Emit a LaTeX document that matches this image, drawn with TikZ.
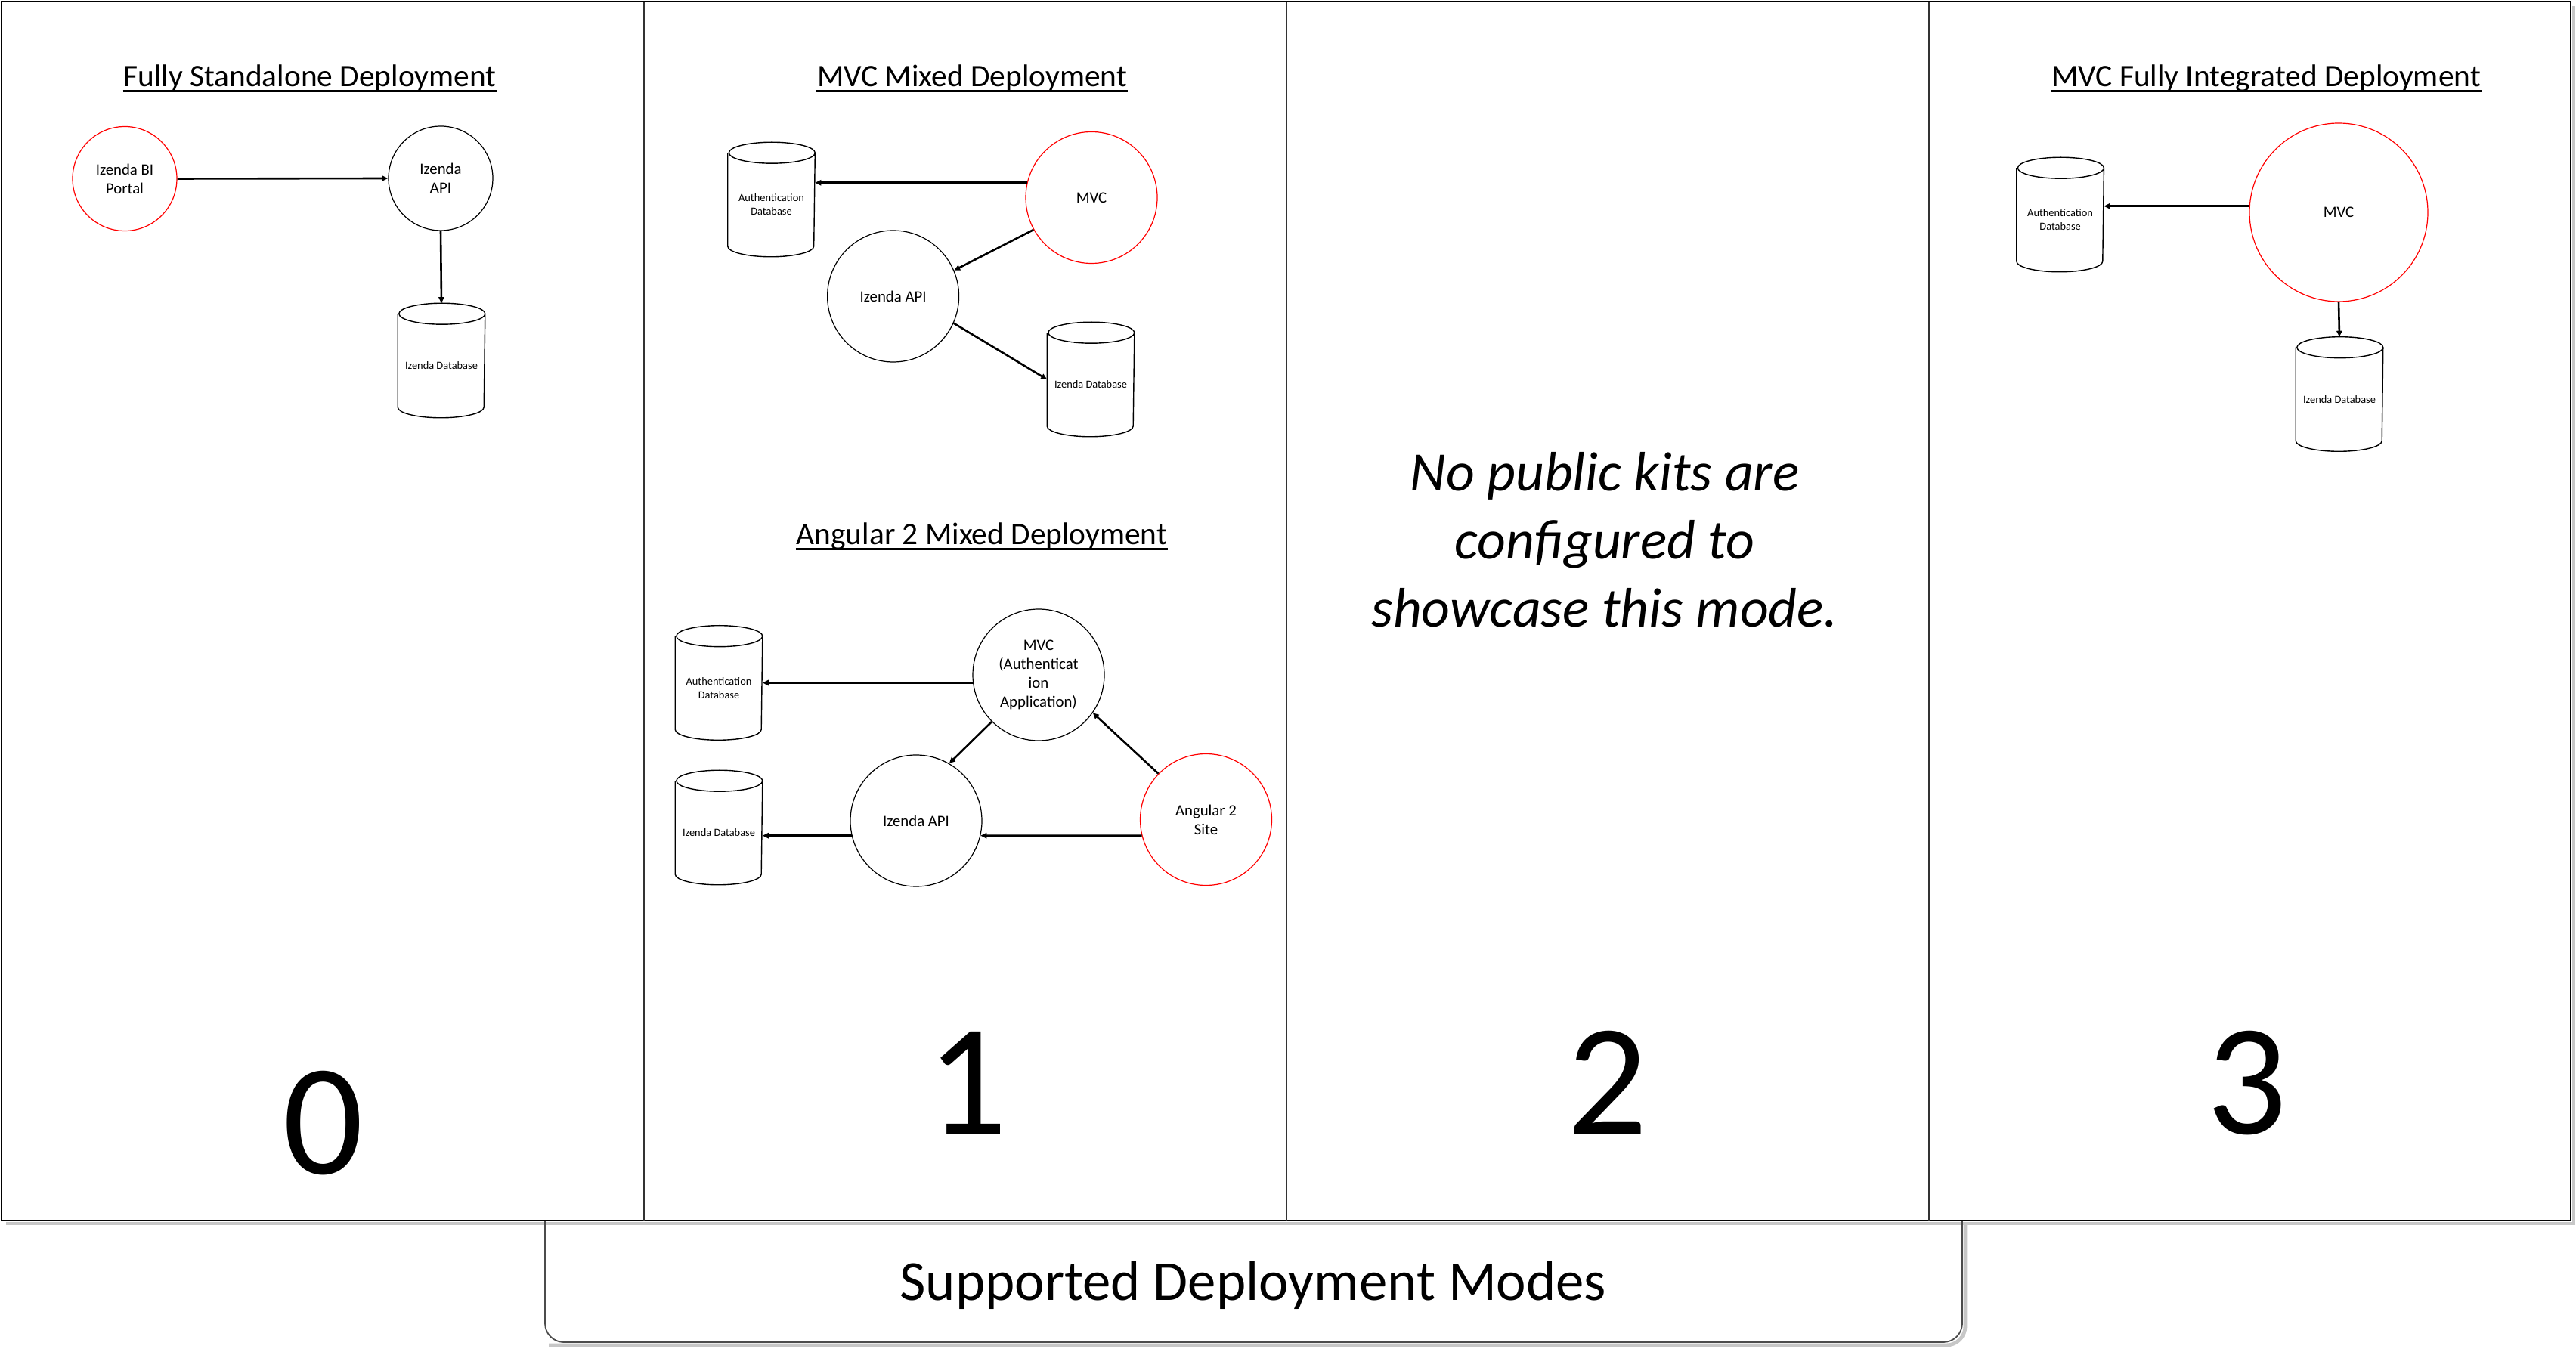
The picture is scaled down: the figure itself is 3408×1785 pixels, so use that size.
\documentclass[tikz,border=0pt]{standalone}
\usepackage{fontspec}
\setmainfont{Carlito}
\usetikzlibrary{arrows.meta}
\tikzset{
  circnode/.style={circle, draw=black, line width=0.3pt, inner sep=0pt, align=center,
    font=\fontsize{5.2pt}{6.3pt}\selectfont},
  redc/.style={draw=red},
  db/.style={rectangle, draw=none, inner sep=0pt, minimum width=28.5pt, minimum height=37.5pt},
  dbline/.style={line width=0.35pt, draw=black},
  dbtxt/.style={inner sep=0pt, align=center, font=\fontsize{3.6pt}{4.5pt}\selectfont},
  arr/.style={-{Triangle[length=2pt,width=1.8pt]}, line width=0.65pt},
  titletxt/.style={inner sep=0pt, anchor=base, font=\fontsize{10.35pt}{12pt}\selectfont},
  uline/.style={line width=0.7pt},
  numtxt/.style={inner sep=0pt, anchor=base, font=\fontsize{52.5pt}{60pt}\selectfont},
  frame/.style={line width=0.5pt, draw=black},
  divider/.style={line width=0.35pt, draw=black!80},
  shadowline/.style={line width=1.2pt, draw=black!22},
}
\newcommand\cyl[1]{%
  \draw[dbline] ([yshift=-3.5pt]#1.north west) -- ([yshift=3.5pt]#1.south west)
    arc[x radius=14.25pt, y radius=3.5pt, start angle=180, end angle=360]
    -- ([yshift=-3.5pt]#1.north east)
    arc[x radius=14.25pt, y radius=3.5pt, start angle=0, end angle=180]
    arc[x radius=14.25pt, y radius=3.5pt, start angle=180, end angle=360];}
\newcommand\uln[1]{\draw[uline] ([yshift=-1.4pt]#1.base west) -- ([yshift=-1.4pt]#1.base east);}
\begin{document}
\begin{tikzpicture}[x=0.25pt,y=-0.25pt]
\useasboundingbox (0,0) rectangle (3408,1785);
\fill[white] (0,0) rectangle (3408,1785);

% shadows
\draw[shadowline] (8,1619) -- (3405,1619) -- (3405,8);
\draw[shadowline, rounded corners=6.25pt] (2600,1619) -- (2600,1780) -- (726,1780);

% bottom box
\draw[line width=0.45pt, draw=black!70, rounded corners=6.25pt]
  (721,1615) -- (721,1776) -- (2596,1776) -- (2596,1615);
\node[inner sep=0pt, anchor=base, font=\fontsize{18.7pt}{22pt}\selectfont] (modes) at (1658,1720) {Supported Deployment Modes};

% panels
\draw[frame] (2,2) rectangle (3401,1615);
\draw[frame, line width=0.7pt] (2,1615) -- (3401,1615);
\draw[divider] (852,2) -- (852,1615);
\draw[divider] (1702,2) -- (1702,1615);
\draw[divider] (2552,2) -- (2552,1615);

% ---- panel 0
\node[titletxt] (t0) at (410,115) {Fully Standalone Deployment};
\uln{t0}
\node[circnode, redc, minimum size=34.5pt] (portal) at (165,236.5) {Izenda BI\\Portal};
\node[circnode, minimum size=34.5pt] (api0) at (583,236) {Izenda\\API};
\node[db] (idb0) at (584,477) {};
\cyl{idb0}
\node[dbtxt] (idb0t) at ([yshift=-1.75pt]idb0.center) {Izenda Database};
\draw[arr] (portal.east) -- (api0.west);
\draw[arr] (api0.south) -- (idb0.north);
\node[numtxt] (n0) at (428,1553) {0};

% ---- panel 1 top
\node[titletxt] (t1a) at (1286,115) {MVC Mixed Deployment};
\uln{t1a}
\node[circnode, redc, minimum size=43.5pt] (mvc1) at (1444,261.5) {MVC};
\node[circnode, minimum size=43.5pt] (api1) at (1181.6,392) {Izenda API};
\node[db] (adb1) at (1020.5,264) {};
\cyl{adb1}
\node[dbtxt] (adb1t) at ([yshift=-1.75pt]adb1.center) {Authentication\\Database};
\node[db] (idb1) at (1443,502) {};
\cyl{idb1}
\node[dbtxt] (idb1t) at ([yshift=-1.75pt]idb1.center) {Izenda Database};
\draw[arr] (mvc1.167) -- (mvc1.167 -| adb1.east);
\draw[arr] (mvc1.209) -- (api1.23);
\draw[arr] (api1.336) -- (idb1.west);

% ---- panel 1 bottom
\node[titletxt] (t1b) at (1299,721) {Angular 2 Mixed Deployment};
\uln{t1b}
\node[circnode, minimum size=43.5pt] (mvc2) at (1374,893) {MVC\\(Authenticat\\ion\\Application)};
\node[circnode, minimum size=43.5pt] (api2) at (1212,1086) {Izenda API};
\node[circnode, redc, minimum size=43.5pt] (ang) at (1595.5,1084.5) {Angular 2\\Site};
\node[db] (adb2) at (951,903.5) {};
\cyl{adb2}
\node[dbtxt] (adb2t) at ([yshift=-1.75pt]adb2.center) {Authentication\\Database};
\node[db] (idb2) at (951,1095) {};
\cyl{idb2}
\node[dbtxt] (idb2t) at ([yshift=-1.75pt]idb2.center) {Izenda Database};
\draw[arr] (mvc2.187) -- (adb2.east);
\draw[arr] (mvc2.225) -- (api2.60);
\draw[arr] (ang.136) -- (mvc2.325);
\draw[arr] (ang.194) -- (api2.347);
\draw[arr] (api2.193) -- (api2.193 -| idb2.east);
\node[numtxt] (n1) at (1280,1500) {1};

% ---- panel 2
\node[inner sep=0pt, anchor=base, align=center, font=\fontsize{18.4pt}{22.5pt}\selectfont\itshape] (nokits) at (2123,830)
  {No public kits are\\configured to\\showcase this mode.};
\node[numtxt] (n2) at (2127,1500) {2};

% ---- panel 3
\node[titletxt] (t3) at (2998,115) {MVC Fully Integrated Deployment};
\uln{t3}
\node[circnode, redc, minimum size=59pt] (mvc3) at (3094,281) {MVC};
\node[db] (adb3) at (2725.6,284) {};
\cyl{adb3}
\node[dbtxt] (adb3t) at ([yshift=-1.75pt]adb3.center) {Authentication\\Database};
\node[db] (idb3) at (3095,521.5) {};
\cyl{idb3}
\node[dbtxt] (idb3t) at ([yshift=-1.75pt]idb3.center) {Izenda Database};
\draw[arr] (mvc3.176) -- (mvc3.176 -| adb3.east);
\draw[arr] (mvc3.south) -- (idb3.north);
\node[numtxt] (n3) at (2973,1500) {3};
\end{tikzpicture}
\end{document}
